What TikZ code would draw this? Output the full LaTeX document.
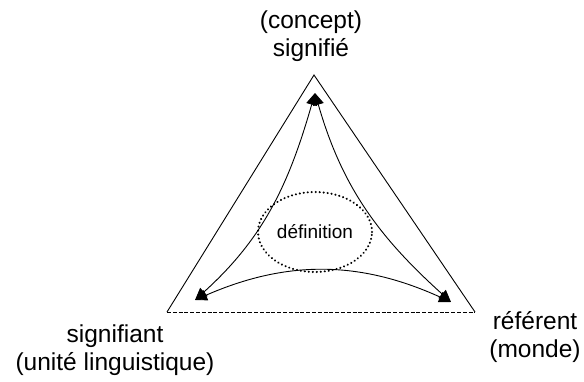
\documentclass[tikz,border=0pt]{standalone}
\usepackage{fontspec}
\setmainfont{Liberation Sans}
\usetikzlibrary{arrows.meta,shapes.geometric}

\begin{document}
\begin{tikzpicture}[x=1pt, y=1pt,
    lbl/.style={align=center, inner sep=0pt, font=\fontsize{24.5}{28}\selectfont},
    side/.style={line width=0.9pt},
    arr/.style={{Triangle[length=12pt,width=11pt]}-{Triangle[length=12pt,width=11pt]}, line width=0.9pt},
    defn/.style={ellipse, draw, line width=2.2pt, dash pattern=on 0.1pt off 3.9pt, line cap=round,
        minimum width=114pt, minimum height=80pt, inner sep=0pt,
        font=\fontsize{19}{22}\selectfont}
  ]
  \useasboundingbox (0,0) rectangle (584,381);
  % triangle corners
  \coordinate (apex)  at (314,306);
  \coordinate (left)  at (167,69);
  \coordinate (right) at (475,69);
  \draw[side] (left) -- (apex) -- (right);
  \draw[side, dash pattern=on 4pt off 1.8pt] (left) -- (right);

  % arrow ends
  \coordinate (ptop)   at (315,288);
  \coordinate (pleft)  at (195,81);
  \coordinate (pright) at (451,79);
  \draw[arr] (pleft) to[out=42, in=-106] (ptop);
  \draw[arr] (ptop) to[out=-74, in=138] (pright);
  \draw[arr] (pleft) to[bend left=24] (pright);

  \node[defn] (def) at (315,149) {définition};

  \node[lbl] (sig)  at (311,345) {(concept)\\signifié};
  \node[lbl] (sign) at (115,31)  {signifiant\\(unité linguistique)};
  \node[lbl] (ref)  at (535,44)  {référent\\(monde)};
\end{tikzpicture}
\end{document}
